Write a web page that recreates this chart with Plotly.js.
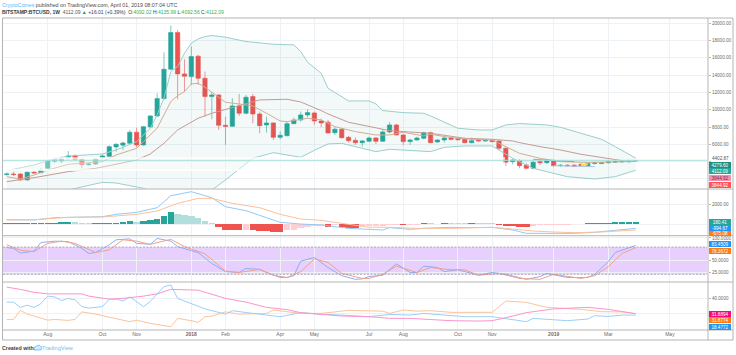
<!DOCTYPE html>
<html><head><meta charset="utf-8">
<script src="https://cdn.plot.ly/plotly-3.0.1.min.js"></script>
<style>html,body{margin:0;padding:0;background:#fff;overflow:hidden}#c{width:736px;height:355px}</style>
</head><body><div id="c"></div>
<script>
// ---- Data (weekly bars, bar 1 = 2017-06-26) ----
const opens=[2500,2565,2565,1870,2760,2720,3220,4030,4070,4490,4690,4260,3630,3720,4490,4610,5700,5900,6115,7390,5920,8000,9280,11290,14685,18930,14145,13830,16190,13640,11520,11710,8200,8080,10440,9590,11520,9510,8240,8470,6810,7000,8390,8820,9400,9630,8700,8550,7350,7740,6810,6460,6190,6350,6730,6350,7430,8240,7080,6310,6500,6700,7350,6270,6500,6730,6650,6580,6190,6460,6390,6460,6390,5540,3993,4109,3607,3221,3993,3877,4110,3520,3590,3590,3680,3530,3790,3790,3860,3950,3960,3970,4092];
const highs=[2719,2835,2642,2835,2880,3221,4186,4495,4572,5228,4842,4379,3877,4379,4842,5884,6116,6309,7660,7930,8123,9397,11906,16654,19742,19240,15843,17310,16345,14415,11983,11790,9204,11327,11829,11713,11829,9783,9204,8548,7467,8625,9088,9783,10053,9783,8972,8818,7969,7853,6965,6811,6502,6888,6849,7737,8548,8355,7197,6618,6888,7467,7467,6618,6849,6849,6772,6772,6772,6540,6580,6540,6430,5653,4302,4263,3800,4109,4263,4302,4263,3723,3680,3700,3800,3950,4000,3960,4150,4100,4120,4200,4135.99];
const lows=[2372,2333,1793,1831,2600,2642,3144,3800,3800,4186,4109,3221,3530,3645,4379,4533,5151,5344,6039,5653,5846,7853,9204,11134,14608,11211,12099,12871,12871,9204,8895,7660,5923,8007,9281,9474,8432,7274,7351,6502,6579,6926,8316,8625,9127,8239,7969,7274,7081,6656,6193,5923,5730,6270,6039,6270,7274,7004,5884,5923,6425,6579,6116,6193,6193,6463,6463,6116,6116,6310,6270,6230,5344,3491,3684,3221,3105,3105,3607,3723,3414,3414,3414,3400,3450,3480,3650,3700,3800,3850,3900,3900,4092.56];
const closes=[2565,2500,1870,2760,2690,3030,4070,4260,4300,4650,4220,3650,3720,4300,4650,5730,6000,6150,7390,5920,8040,9280,11290,14685,18930,14145,13870,16150,13640,11520,11710,8200,8080,10440,9590,11440,9510,8160,8470,6810,7040,8390,8820,9400,9670,8700,8470,7310,7740,6770,6420,6190,6390,6730,6350,7430,8240,7080,6310,6500,6730,7350,6190,6500,6730,6580,6540,6190,6420,6400,6460,6310,5540,3920,4186,3530,3221,3915,3877,4147,3530,3570,3520,3480,3530,3790,3870,3860,3950,3980,4020,4092,4112.09];

const bbUpperBars=[1,5,7,10,15,17,20,22,23,24,25,26,27,28,29,30,31,33,36,40,43,44,45,46,47,48,51,54,55,56,59,62,63,67,70,72,74,76,80,82,85,88,90,93];
const bbUpperVals=[2950,3607,4109,4649,4881,5344,6309,7853,9397,11327,14415,14994,16538,17696,18198,18468,18584,18391,17889,17580,17503,16731,15496,14801,14222,12485,11018,11018,10671,9899,9667,9590,9281,7853,7660,7660,8239,8400,8239,7969,7274,6579,5730,4402.87];
const bbLowerBars=[1,7,10,13,15,17,19,21,23,26,29,31,33,35,37,40,44,46,48,50,53,55,57,62,63,65,68,72,73,75,78,83,87,90,93];
const bbLowerVals=[300,400,712,1291,1600,1522,1175,905,326,300,100,712,1870,3105,4379,5035,4495,5300,6039,6116,5537,5151,5421,5267,5151,5653,5807,5807,5344,4379,3221,2256,1986,2256,3000];
const basisBars=[1,5,10,14,16,20,22,24,26,29,31,34,36,38,42,44,47,48,51,54,57,59,63,68,72,75,76,79,82,85,88,92,93];
const basisVals=[1677,2140,2835,3221,3530,4186,4881,6116,7660,9011,9590,10285,10748,11134,11211,10900,9899,9513,8548,8046,7582,7467,7274,6695,6579,6386,6193,5730,5344,4842,4456,3993,4050];
const fastBars=[1,3,5,7,10,12,15,17,20,21,23,25,26,27,28,29,30,31,33,35,37,39,41,42,45,47,48,49,52,55,57,59,62,63,66,69,72,74,76,78,79,82,86,90,93];
const fastVals=[2256,1986,2449,3028,3684,3800,3993,4765,5537,6309,7853,10941,11636,12100,12987,13064,12600,12022,10864,10671,10439,9590,8702,8625,9011,8818,8432,8046,7467,7081,7081,7390,6965,7158,6772,6579,6502,5730,4958,4572,4379,3993,3900,3950,4050];
const wedgeTopBars=[78,84], wedgeTopVals=[4263,3993];
const wedgeLowBars=[81,87], wedgeLowVals=[3530,3414];
const wedgeMarkBars=[85,86], wedgeMarkVals=[3600,3680];

const macdHist=[60,60,60,60,70,75,104,138,173,207,173,104,60,60,104,104,138,173,276,207,311,414,483,828,1242,1070,897,863,656,311,60,-345,-587,-590,-656,-621,-640,-690,-700,-828,-830,-621,-587,-414,-276,-242,-207,-276,-138,-311,-380,-385,-240,-230,-225,-220,-70,-60,-75,-70,-60,60,55,50,70,65,60,55,70,65,60,55,-60,-173,-242,-276,-280,-173,-104,-70,-65,-60,-55,-50,-45,60,138,140,145,173,175,178,180.41];
const macdBars=[1,5,8,12,15,17,20,23,25,28,31,33,36,39,41,44,47,51,54,56,57,60,62,66,68,72,75,77,80,84,87,90,93];
const macdVals=[448,414,655,759,759,1000,1207,1690,2932,3346,2725,1794,1380,655,172,0,-104,-448,-570,-621,-380,-552,-449,-345,-380,-345,-621,-966,-966,-966,-862,-621,-449];
const signalBars=[1,5,10,15,20,23,26,29,31,34,38,41,44,47,51,54,57,61,66,72,75,78,81,84,88,91,93];
const signalVals=[414,448,690,724,1000,1345,2139,2656,2656,2139,1690,1000,517,380,-35,-330,-345,-449,-449,-345,-518,-725,-828,-897,-828,-725,-621];

const stochKBars=[1,2,3,5,6,8,10,12,13,14,16,17,19,20,22,23,25,26,28,29,31,33,35,36,38,39,41,42,43,44,46,48,50,52,53,54,56,58,60,61,62,64,65,67,70,72,74,77,79,80,83,86,87,89,90,92,93];
const stochKVals=[79,77,67,71,90,93,92,77,66,68,85,96,98,88,86,99,93,81,72,68,44,26,24,33,31,24,13,13,17,49,57,35,17,9,10,15,18,43,24,24,38,35,26,30,18,24,20,9,15,22,13,13,20,48,68,79,83.45];
const stochDBars=[1,3,5,7,9,11,14,16,18,20,22,25,27,30,33,35,38,40,42,44,46,48,50,53,54,56,58,61,63,66,68,70,73,76,79,81,85,87,89,91,93];
const stochDVals=[85,73,70,88,93,88,68,74,96,93,86,97,81,65,27,24,31,18,13,26,54,46,22,11,11,20,38,24,35,30,30,18,22,11,9,20,11,17,37,66,78.37];

const adxBars=[1,3,5,7,12,13,16,18,21,23,25,29,33,36,39,42,44,47,50,54,57,60,63,66,70,72,74,77,81,84,86,89,91,93];
const adxVals=[55,52,48,46,46,43,39,40,43,46,52,51,40,35,28,25,21,19,16.5,15.6,13.4,13.4,12,10.3,9.8,10.3,14.3,21,26,27,28,25.4,22.3,19.6];
const plusBars=[1,2,3,4,5,6,7,8,9,10,11,12,13,15,16,17,18,19,21,22,24,25,26,28,30,33,34,37,41,44,47,50,54,57,60,62,65,68,72,75,77,78,81,83,86,87,89,91,93];
const plusVals=[35,35,28,31,28,33,43,42,37,40,38,29,27,29,39,39,36.5,42,29,36,55.6,57.8,40,33,26,19,23.6,20,15.6,21,18.7,17.8,15.6,18.7,17.8,20,17.8,15.6,15.6,12,9,13.4,11.6,10.3,12.5,17,16,17.8,17.8];
const minusBars=[1,2,3,4,5,7,8,10,11,12,14,17,19,20,22,25,26,28,29,30,31,33,35,39,40,44,47,51,54,56,57,59,61,63,66,70,72,74,77,80,81,85,88,91,93];
const minusVals=[12,12,24,19,16.5,11,12,10.7,12,22,19,13.4,9,11,6.7,2.3,13.4,10.3,8,15.6,16.5,22,19,20,24.5,20,20,24,23,23,20,24.5,23,23.6,21.4,21.4,21.4,36.5,34.7,28,27.6,25.4,22.3,22,19.6];

const timeTickDates=['2017-08-07','2017-10-02','2017-11-06','2018-01-01','2018-02-05','2018-04-02','2018-05-07','2018-07-02','2018-08-06','2018-10-01','2018-11-05','2019-01-07','2019-03-04','2019-05-06'];
const timeTickLabels=['Aug','Oct','Nov','<b>2018</b>','Feb','Apr','May','Jul','Aug','Oct','Nov','<b>2019</b>','Mar','May'];

// ---- Helpers ----
const W=736,H=355,ML=3,MR=28,MT=18,MB=25,PW=W-ML-MR,PH=H-MT-MB;
const barDate=n=>new Date(Date.UTC(2017,5,26)+(n-1)*7*864e5).toISOString().slice(0,10);
const X=a=>a.map(barDate);
const px=x=>(x-ML)/PW, py=y=>(H-MB-y)/PH;
const dom=(a,b)=>[py(b),py(a)];
const allBars=opens.map((_,i)=>barDate(i+1));

const UP='#26a69a',DN='#ef5350';
const line=(bars,vals,color,yaxis,width=1,extra={})=>Object.assign({type:'scatter',mode:'lines',x:X(bars),y:vals,xaxis:'x',yaxis,line:{color,width},hoverinfo:'skip'},extra);

const histColors=macdHist.map((v,i)=>{const p=i?macdHist[i-1]:0;
  return v>=0?(v>=p?'#26a69a':'#b2dfdb'):(v<=p?'#ef5350':'#ffcdd2');});

const traces=[
 {type:'candlestick',x:allBars,open:opens,high:highs,low:lows,close:closes,xaxis:'x',yaxis:'y',whiskerwidth:0,
  increasing:{line:{color:UP,width:.6},fillcolor:UP},decreasing:{line:{color:DN,width:.6},fillcolor:DN},hoverinfo:'skip'},
 line(bbUpperBars,bbUpperVals,'#9acfcc','y'),
 line(bbLowerBars,bbLowerVals,'#9acfcc','y',1,{fill:'tonexty',fillcolor:'rgba(38,150,140,0.06)'}),
 line(basisBars,basisVals,'#c59b94','y'),
 line(fastBars,fastVals,'#d3ad90','y'),
 line(wedgeTopBars,wedgeTopVals,'#7ea6ef','y'),
 line(wedgeLowBars,wedgeLowVals,'#a8c4f2','y'),
 line(wedgeMarkBars,wedgeMarkVals,'#f6e24a','y',2),
 {type:'bar',x:allBars,y:macdHist,xaxis:'x',yaxis:'y2',width:6.6*864e5,marker:{color:histColors,line:{width:0}},hoverinfo:'skip'},
 line(macdBars,macdVals,'#92c8f6','y2'),
 line(signalBars,signalVals,'#fac19a','y2'),
 line(stochKBars,stochKVals,'#8eaef2','y3'),
 line(stochDBars,stochDVals,'#eea388','y3'),
 line(minusBars,minusVals,'#fcc49b','y4'),
 line(plusBars,plusVals,'#9ad0f8','y4'),
 line(adxBars,adxVals,'#fc94cb','y4')
];

const tick={family:'Liberation Sans, Arial, sans-serif',size:4.6,color:'#6b6b6b'};
const GRID='#eef2f6';
const yax=(domain,range,tickvals,ticktext)=>({domain,range,side:'right',anchor:'x',tickmode:'array',tickvals,ticktext,
  tickfont:tick,gridcolor:GRID,gridwidth:1,zeroline:false,showline:false,ticks:'outside',ticklen:2,tickwidth:.6,tickcolor:'#888'});

const shapeLine=(x0,y0,x1,y1,color,width,dash)=>({type:'line',xref:'paper',yref:'paper',x0:px(x0),x1:px(x1),y0:py(y0),y1:py(y1),line:{color,width,dash:dash||'solid'},layer:'above'});
const stripe=(y0,y1,op)=>({type:'rect',xref:'paper',yref:'paper',x0:px(3),x1:px(505),y0:py(y0),y1:py(y1),fillcolor:'#fff',opacity:op,line:{width:0},layer:'above'});
const FR='#b4b4b4';
const shapes=[
 stripe(157.2,159.8,.75),stripe(160.8,169,.35),stripe(169,171,.8),
 {type:'line',xref:'paper',yref:'y',x0:0,x1:1,y0:closes[closes.length-1]+35,y1:closes[closes.length-1]+35,line:{color:'#a5dfd9',width:1},layer:'above'},
 {type:'rect',xref:'paper',yref:'y3',x0:0,x1:1,y0:20,y1:80,fillcolor:'rgba(153,60,250,0.24)',line:{width:0},layer:'below'},
 {type:'line',xref:'paper',yref:'y3',x0:0,x1:1,y0:80,y1:80,line:{color:'#a593b3',width:.8,dash:'2px,1.5px'},layer:'above'},
 {type:'line',xref:'paper',yref:'y3',x0:0,x1:1,y0:20,y1:20,line:{color:'#a593b3',width:.8,dash:'2px,1.5px'},layer:'above'},
 shapeLine(708,18,708,340,'#dadada',2),
 {type:'rect',xref:'paper',yref:'paper',x0:px(2.5),x1:px(733),y0:py(18),y1:py(340),line:{color:FR,width:1},layer:'above'},
 shapeLine(3,189,733,189,FR,1),shapeLine(3,235.7,733,235.7,FR,1),shapeLine(3,282,733,282,FR,1),shapeLine(3,330,733,330,FR,1),
 {type:'path',xref:'paper',yref:'paper',path:`M ${px(34)} ${py(350)} L ${px(41)} ${py(350)} L ${px(42)} ${py(347.5)} L ${px(39)} ${py(345)} L ${px(36.5)} ${py(346)} L ${px(34)} ${py(347.5)} Z`,fillcolor:'#d6ecfb',line:{color:'#4fb3f6',width:.7},layer:'above'}
];

const F='Liberation Sans, Arial, sans-serif';
const txt=(x,y,text,size,color,extra={})=>Object.assign({xref:'paper',yref:'paper',x:px(x),y:py(y),text,showarrow:false,xanchor:'left',yanchor:'middle',font:{family:F,size,color},borderpad:0,borderwidth:0},extra);
const badge=(y,text,bg,color='#fff',h=6.4)=>txt(708.6,y,text,4.6,color,{bgcolor:bg,width:22,height:h,align:'center'});
const G='#37b24d';
const annotations=[
 txt(2,5,'<span style="color:#5cb8f5">CryptoComes</span> published on TradingView.com, April 01, 2019 08:07:04 UTC',5.3,'#4a4a4a'),
 txt(2,11.6,`<b>BITSTAMP:BTCUSD, 1W</b>  <span style="color:#555">4112.09</span> <span style="color:#1b9e3e">▲</span> +16.01 (+0.39%)  O:<span style="color:${G}">4092.02</span> H:<span style="color:${G}">4135.99</span> L:<span style="color:${G}">4092.56</span> C:<span style="color:${G}">4112.09</span>`,5,'#3a3a3a'),
 txt(712,158.2,'4402.87',4.6,'#555'),
 badge(164.6,'4279.60','#1f8f85'),badge(171.4,'4112.09','#26a69a'),badge(178.4,'3944.92','#f48fb1','#7a2f4a'),badge(185.3,'3844.92','#ff5252'),
 badge(233.2,'-675.08','#ff7a14','#fff',5),badge(221.5,'180.41','#26a69a'),badge(228.4,'-994.67','#2196f3'),
 badge(244.3,'83.4509','#2196f3'),badge(251.2,'78.3672','#ff7a14'),
 badge(313.8,'31.8894','#f50a78'),badge(320.3,'31.8774','#ff7a14'),badge(327,'18.4772','#2196f3'),
 txt(2,348.2,'<b>Created with</b>',5.3,'#3c3c3c'),
 txt(42,348.2,'TradingView',5.6,'#72bdf2')
];

const layout={
 width:W,height:H,autosize:false,margin:{l:ML,r:MR,t:MT,b:MB,pad:0},paper_bgcolor:'#fff',plot_bgcolor:'#fff',
 showlegend:false,hovermode:false,dragmode:false,bargap:0,barmode:'overlay',boxgap:.1,boxmode:'overlay',
 font:{family:F},
 xaxis:{type:'date',domain:[0,1],anchor:'y4',range:['2017-06-22 05:00','2019-06-14'],rangeslider:{visible:false},tickmode:'array',tickvals:timeTickDates,ticktext:timeTickLabels,tickfont:Object.assign({},tick,{size:5}),tickangle:0,gridcolor:GRID,gridwidth:1,zeroline:false,showline:false,ticks:'',ticklen:0},
 yaxis:yax(dom(18,189),[828,20613],[2000,4000,6000,8000,10000,12000,14000,16000,18000,20000],['','','6000.00','8000.00','10000.00','12000.00','14000.00','16000.00','18000.00','20000.00']),
 yaxis2:yax(dom(189,235.7),[-1212,3627],[0,2000],['','2000.00']),
 yaxis3:yax(dom(235.7,282),[3.1,105],[25,50,100],['25.0000','50.0000','100.0000']),
 yaxis4:yax(dom(282,330),[-2.1,61.8],[20,40],['','40.0000']),
 shapes,annotations
};
Plotly.newPlot('c',traces,layout,{staticPlot:true,displayModeBar:false,responsive:false});
</script></body></html>
